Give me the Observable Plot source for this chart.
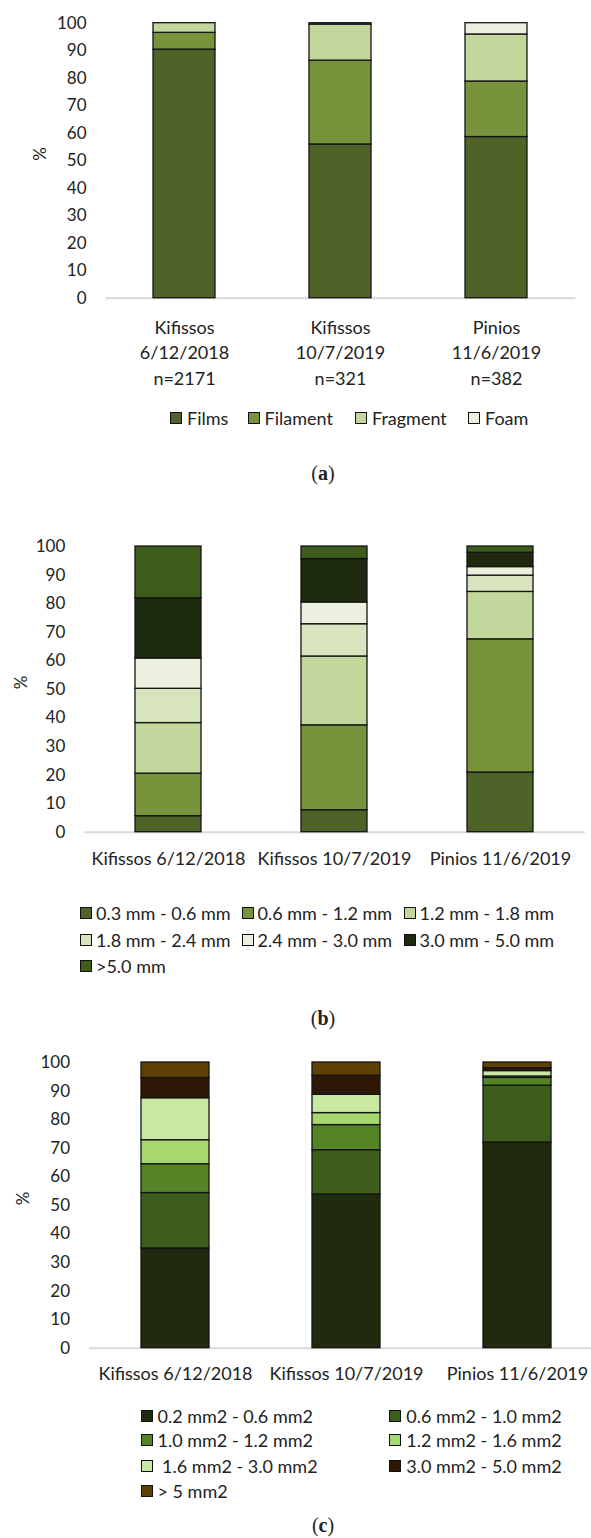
<!DOCTYPE html>
<html><head><meta charset="utf-8">
<script src="https://cdn.jsdelivr.net/npm/d3@7"></script>
<script src="https://cdn.jsdelivr.net/npm/@observablehq/plot@0.6"></script>
<style>
body{margin:0;background:#fff;}
#root{position:relative;width:591px;height:1538px;overflow:hidden;font-family:Lato,sans-serif;color:#222;}
.panel{position:absolute;left:0;}
.leg{position:absolute;display:flex;align-items:center;height:20px;font-size:18px;white-space:pre;font-family:Lato,sans-serif;color:#222;}
.sw{width:12px;height:12px;border:1px solid #111;box-sizing:border-box;flex:none;}
.cap{position:absolute;font-family:"Liberation Serif",serif;font-size:20px;transform:translate(-50%,-50%);color:#222;white-space:pre;}
</style></head>
<body><div id="root"></div>
<script>
// ---- data ----
const sites = ["Kifissos 6/12/2018", "Kifissos 10/7/2019", "Pinios 11/6/2019"];
const sampleSizes = ["n=2171", "n=321", "n=382"];

// (a) shape
const shapeCats = ["Films", "Filament", "Fragment", "Foam"];
const films    = [90.4, 55.9, 58.6];
const filament = [6.1, 30.5, 20.2];
const fragment = [3.5, 13.1, 17.1];
const foam     = [0.0, 0.5, 4.1];
const shapeColors = ["#4f6228", "#77933c", "#c3d69b", "#ebf1de"];

// (b) size
const sizeCats = ["0.3 mm - 0.6 mm", "0.6 mm - 1.2 mm", "1.2 mm - 1.8 mm", "1.8 mm - 2.4 mm", "2.4 mm - 3.0 mm", "3.0 mm - 5.0 mm", ">5.0 mm"];
const size03_06 = [5.6, 7.7, 20.9];
const size06_12 = [14.9, 29.7, 46.6];
const size12_18 = [17.7, 24.1, 16.6];
const size18_24 = [12.0, 11.3, 5.7];
const size24_30 = [10.6, 7.6, 3.0];
const size30_50 = [21.1, 15.2, 5.0];
const size50    = [18.1, 4.4, 2.2];
const sizeColors = ["#4f6228", "#77933c", "#c3d69b", "#d7e4bd", "#ebf1de", "#1e2a0e", "#3e5c1b"];

// (c) area
const areaCats = ["0.2 mm2 - 0.6 mm2", "0.6 mm2 - 1.0 mm2", "1.0 mm2 - 1.2 mm2", "1.2 mm2 - 1.6 mm2", " 1.6 mm2 - 3.0 mm2", "3.0 mm2 - 5.0 mm2", "> 5 mm2"];
const area02_06 = [34.9, 53.8, 72.0];
const area06_10 = [19.4, 15.5, 19.9];
const area10_12 = [10.1, 8.8, 2.7];
const area12_16 = [8.4, 4.2, 0.5];
const area16_30 = [14.7, 6.4, 1.9];
const area30_50 = [7.1, 6.7, 1.0];
const area50    = [5.4, 4.6, 2.0];
const areaColors = ["#1f2a0e", "#3d5e1a", "#548426", "#a6d86e", "#c9e8a3", "#2e1704", "#5f4104"];

// ---- helpers ----
const root = document.getElementById("root");

function rowsFrom(cats, series) {
  const rows = [];
  cats.forEach((c, j) => series[j].forEach((v, i) => rows.push({site: sites[i], cat: c, value: v})));
  return rows;
}

function panel(o) {
  const rows = rowsFrom(o.cats, o.series);
  const xOpts = {domain: sites, paddingInner: 0.6, paddingOuter: 0.3, axis: null};
  if (o.xRange) xOpts.range = o.xRange;
  const chart = Plot.plot({
    width: 591, height: o.height,
    marginTop: o.mt, marginBottom: o.mb, marginLeft: o.ml, marginRight: o.mr,
    style: {fontFamily: "Lato, sans-serif", fontSize: "17px", color: "#222", background: "transparent", overflow: "visible"},
    x: xOpts,
    y: {domain: [0, 100], ticks: 10, tickSize: 0, tickPadding: o.tickPad, label: null},
    color: {domain: o.cats, range: o.colors},
    marks: [
      Plot.ruleY([0], {stroke: "#d9d9d9", strokeWidth: 2}),
      Plot.barY(rows, {x: "site", y: "value", fill: "cat", stroke: "#141414", strokeWidth: 1.3}),
      Plot.text(sites, {x: d => d, text: (d, i) => o.labels[i], frameAnchor: "bottom", dy: o.labelDy, lineAnchor: "middle", lineHeight: o.lineHeight || 1, fontSize: 18, fill: "#222"}),
      Plot.text(["%"], {frameAnchor: "left", dx: o.pctDx, rotate: -90, fontSize: 17, fill: "#222"})
    ]
  });
  chart.classList.add("panel");
  chart.style.top = o.top + "px";
  root.appendChild(chart);

  o.legend.forEach((p, j) => {
    const d = document.createElement("div");
    d.className = "leg";
    d.style.left = p[0] + "px";
    d.style.top = (p[1] - 10) + "px";
    const sw = document.createElement("span");
    sw.className = "sw";
    sw.style.background = o.colors[j];
    const t = document.createElement("span");
    t.textContent = o.cats[j];
    t.style.marginLeft = (p[2] - p[0] - 12) + "px";
    d.appendChild(sw); d.appendChild(t);
    root.appendChild(d);
  });

  const c = document.createElement("div");
  c.className = "cap";
  c.style.left = o.cap[0] + "px";
  c.style.top = o.cap[1] + "px";
  c.innerHTML = "(<b>" + o.cap[2] + "</b>)";
  root.appendChild(c);
}

// (a)
panel({
  cats: shapeCats, series: [films, filament, fragment, foam], colors: shapeColors,
  labels: sites.map((s, i) => s.replace(" ", "\n") + "\n" + sampleSizes[i]),
  top: 0, height: 400, mt: 22.7, mb: 400 - 297.7, ml: 105.5, mr: 591 - 575.4,
  tickPad: 19.5, pctDx: -65, labelDy: 52.8, lineHeight: 25.5 / 18,
  legend: [[170, 418.3, 187], [247.5, 418.3, 264.5], [355, 418.3, 372], [468, 418.3, 485]],
  cap: [323, 473, "a"]
});

// (b)
panel({
  cats: sizeCats, series: [size03_06, size06_12, size12_18, size18_24, size24_30, size30_50, size50], colors: sizeColors,
  labels: sites,
  top: 500, height: 380, mt: 46, mb: 880 - 831.7, ml: 84.4, mr: 591 - 584.8,
  tickPad: 19.6, pctDx: -63.7, labelDy: 27.3,
  legend: [[80.3, 912.7, 96], [241.9, 912.7, 257.6], [403.9, 912.7, 419.6],
           [80.3, 940, 96], [241.9, 940, 257.6], [403.9, 940, 419.6],
           [80.3, 966, 96]],
  cap: [323, 1018.3, "b"]
});

// (c)
panel({
  cats: areaCats, series: [area02_06, area06_10, area10_12, area12_16, area16_30, area30_50, area50], colors: areaColors,
  labels: sites,
  top: 1030, height: 370, mt: 32, mb: 1400 - 1347.7, ml: 89.3, mr: 0, xRange: [89.3, 602.8],
  tickPad: 19.8, pctDx: -66, labelDy: 25.6,
  legend: [[141.3, 1415.7, 157.5], [389.2, 1415.7, 406.2],
           [141.3, 1440, 157.5], [389.2, 1440, 406.2],
           [141.3, 1465.7, 157.5], [389.2, 1465.7, 406.2],
           [141.3, 1490.7, 157.5]],
  cap: [323, 1525, "c"]
});
</script>
</body></html>
